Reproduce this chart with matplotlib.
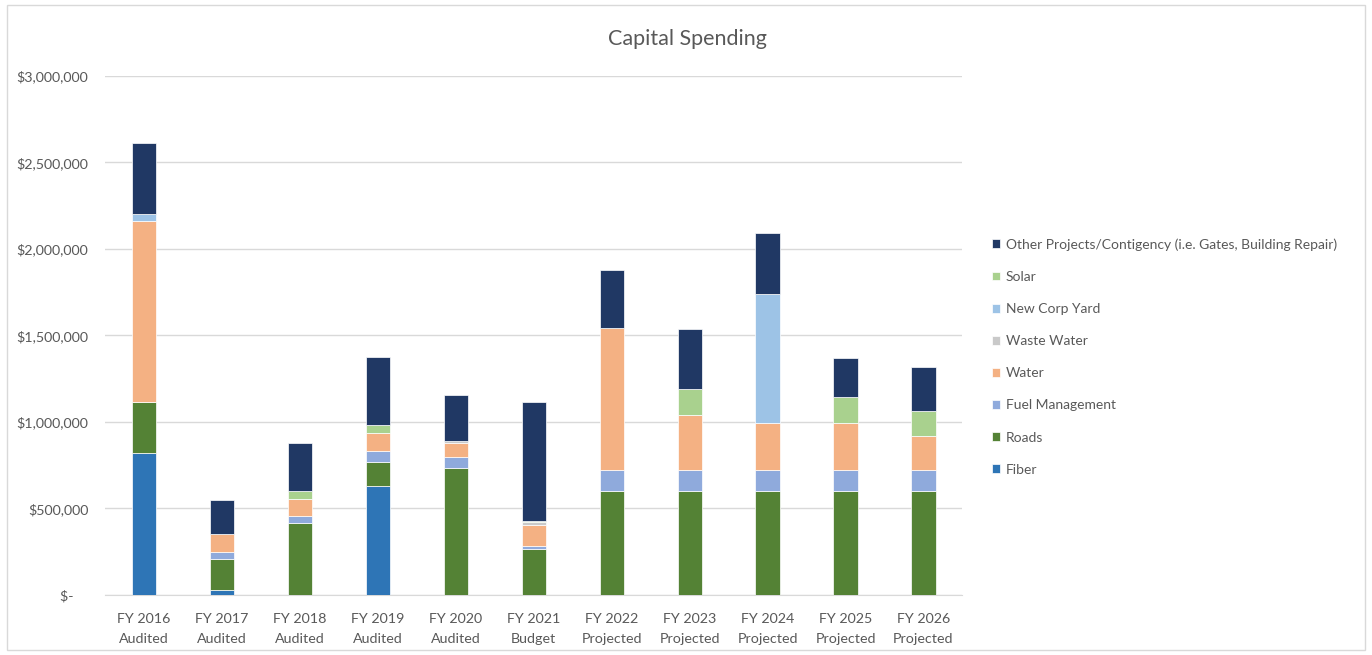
import matplotlib.pyplot as plt
from matplotlib.patches import Rectangle
import numpy as np

# 数据
categories = ['FY 2016\nAudited', 'FY 2017\nAudited', 'FY 2018\nAudited', 'FY 2019\nAudited',
              'FY 2020\nAudited', 'FY 2021\nBudget', 'FY 2022\nProjected', 'FY 2023\nProjected',
              'FY 2024\nProjected', 'FY 2025\nProjected', 'FY 2026\nProjected']
fiber = [820000, 30000, 0, 632000, 0, 0, 0, 0, 0, 0, 0]
roads = [295000, 177000, 414000, 135000, 736000, 264000, 600000, 600000, 600000, 600000, 600000]
fuel_mgmt = [0, 39000, 45000, 63000, 62000, 21000, 120000, 120000, 120000, 120000, 120000]
water = [1047000, 106000, 98000, 106000, 81000, 118000, 825000, 320000, 275000, 275000, 200000]
waste_water = [0, 0, 0, 0, 13000, 19000, 0, 0, 0, 0, 0]
corp_yard = [38000, 0, 0, 0, 0, 0, 0, 0, 745000, 0, 0]
solar = [0, 0, 46000, 45000, 0, 8000, 0, 150000, 0, 150000, 145000]
other = [411000, 198000, 274000, 393000, 264000, 684000, 335000, 350000, 350000, 225000, 252000]

series = [
    ('Fiber', fiber, '#2E75B6'),
    ('Roads', roads, '#548235'),
    ('Fuel Management', fuel_mgmt, '#8FAADC'),
    ('Water', water, '#F4B183'),
    ('Waste Water', waste_water, '#C9C9C9'),
    ('New Corp Yard', corp_yard, '#9DC3E6'),
    ('Solar', solar, '#A9D18E'),
    ('Other Projects/Contigency (i.e. Gates, Building Repair)', other, '#203864'),
]

txt = '#595959'
plt.rcParams['font.family'] = ['Lato', 'DejaVu Sans']

fig = plt.figure(figsize=(13.72, 6.55), dpi=100)
fig.patches.append(Rectangle((0.005, 0.008), 0.99, 0.985, transform=fig.transFigure,
                             fill=False, ec='#D9D9D9', lw=1))
ax = fig.add_axes([0.0765, 0.0916, 0.625, 0.7924])

x = np.arange(len(categories))
bottom = np.zeros(len(categories))
for name, vals, col in series:
    ax.bar(x, vals, 0.31, bottom=bottom, color=col, label=name, edgecolor='white', linewidth=0.5, zorder=3)
    bottom += np.array(vals)

ax.set_xlim(-0.5, len(categories) - 0.5)
ax.set_ylim(0, 3000000)
ax.set_yticks(np.arange(0, 3000001, 500000))
ax.set_yticklabels(['$-    '] + ['${:,.0f}'.format(v) for v in np.arange(500000, 3000001, 500000)])
ax.set_xticks(x)
ax.set_xticklabels(categories, linespacing=1.75)
ax.tick_params(axis='both', length=0, colors=txt, labelsize=10.3)
ax.tick_params(axis='x', pad=13)
ax.tick_params(axis='y', pad=12)
ax.grid(axis='y', color='#D9D9D9', lw=1, zorder=0)
for s in ['left', 'right', 'top']:
    ax.spines[s].set_visible(False)
ax.spines['bottom'].set_color('#D9D9D9')

fig.text(0.501, 0.941, 'Capital Spending', ha='center', va='center', fontsize=15.5, color=txt)

h, l = ax.get_legend_handles_labels()
fig.legend(h[::-1], l[::-1], loc='center left', bbox_to_anchor=(0.714, 0.455), frameon=False,
           fontsize=10, labelcolor=txt, handlelength=0.6, handleheight=0.6, handletextpad=0.4,
           labelspacing=1.45)

fig.savefig('out.png', dpi=100)
